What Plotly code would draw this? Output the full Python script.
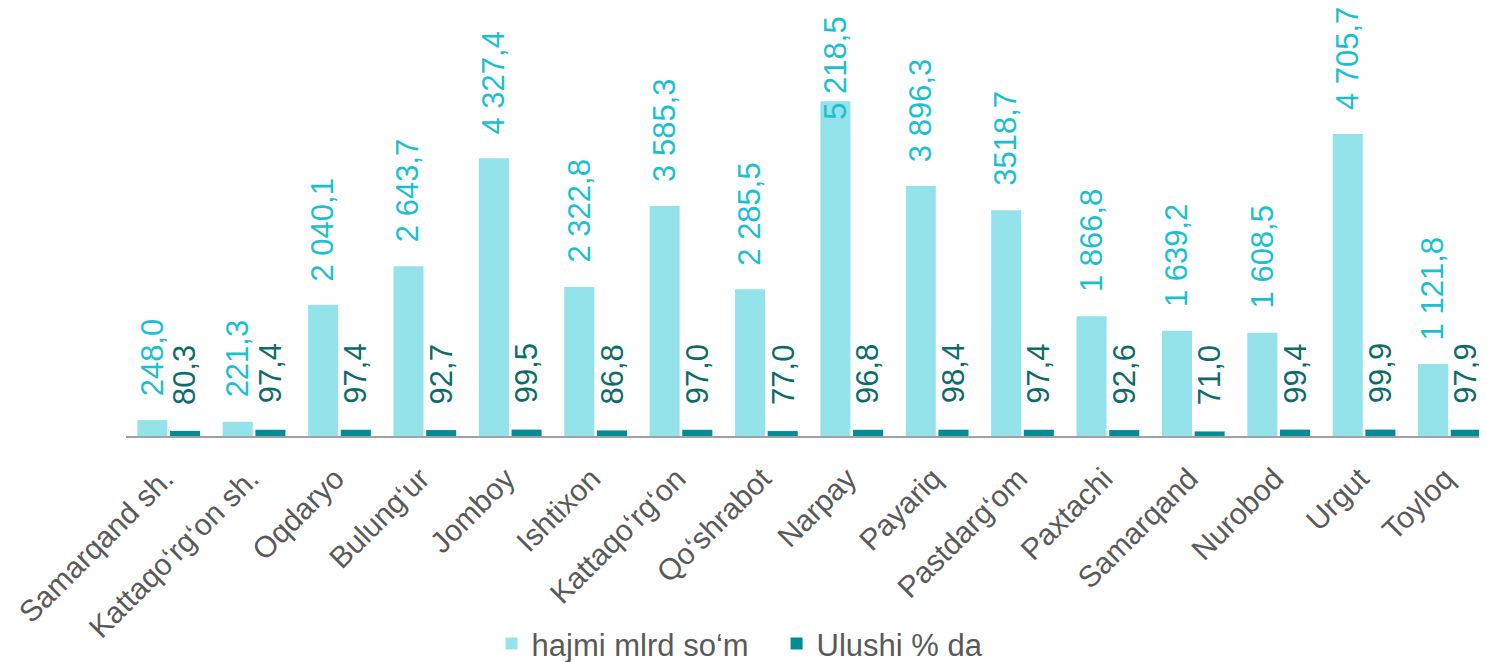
import plotly.graph_objects as go

categories = ["Samarqand sh.", "Kattaqo‘rg‘on sh.", "Oqdaryo", "Bulung‘ur", "Jomboy",
              "Ishtixon", "Kattaqo‘rg‘on", "Qo‘shrabot", "Narpay", "Payariq",
              "Pastdarg‘om", "Paxtachi", "Samarqand", "Nurobod", "Urgut", "Toyloq"]
hajmi = [248.0, 221.3, 2040.1, 2643.7, 4327.4, 2322.8, 3585.3, 2285.5,
         5218.5, 3896.3, 3518.7, 1866.8, 1639.2, 1608.5, 4705.7, 1121.8]
hajmi_labels = ["248,0", "221,3", "2 040,1", "2 643,7", "4 327,4", "2 322,8", "3 585,3", "2 285,5",
                "5 218,5", "3 896,3", "3518,7", "1 866,8", "1 639,2", "1 608,5", "4 705,7", "1 121,8"]
ulushi = [80.3, 97.4, 97.4, 92.7, 99.5, 86.8, 97.0, 77.0,
          96.8, 98.4, 97.4, 92.6, 71.0, 99.4, 99.9, 97.9]
ulushi_labels = ["80,3", "97,4", "97,4", "92,7", "99,5", "86,8", "97,0", "77,0",
                 "96,8", "98,4", "97,4", "92,6", "71,0", "99,4", "99,9", "97,9"]

LIGHT = "#95E3EA"
DARK = "#008C95"
LIGHT_TXT = "#1CBFD0"
DARK_TXT = "#0D6B6B"
GRAY = "#595959"
FONT = "Liberation Sans, Arial, sans-serif"

fig = go.Figure()
fig.add_trace(go.Bar(name="hajmi mlrd so‘m", x=categories, y=hajmi,
                     marker=dict(color=LIGHT, line=dict(width=0))))
fig.add_trace(go.Bar(name="Ulushi % da", x=categories, y=ulushi,
                     marker=dict(color=DARK, line=dict(width=0))))

# labels of bars too tall to fit are kept inside the chart (top-anchored), as Excel does
FIT_LIMIT = 5000
annotations = []
for c, v, t in zip(categories, hajmi, hajmi_labels):
    if v > FIT_LIMIT:
        annotations.append(dict(x=c, y=1.0935, xref="x", yref="paper", text=t,
                                showarrow=False, textangle=-90, xanchor="center", yanchor="top",
                                xshift=-16.5, font=dict(size=31, color=LIGHT_TXT, family=FONT)))
    else:
        annotations.append(dict(x=c, y=v, xref="x", yref="y", text=t,
                                showarrow=False, textangle=-90, xanchor="center", yanchor="bottom",
                                xshift=-16.5, yshift=22, font=dict(size=31, color=LIGHT_TXT, family=FONT)))
for c, v, t in zip(categories, ulushi, ulushi_labels):
    annotations.append(dict(x=c, y=v, xref="x", yref="y", text=t,
                            showarrow=False, textangle=-90, xanchor="center", yanchor="bottom",
                            xshift=16.5, yshift=24, font=dict(size=31, color=DARK_TXT, family=FONT)))

fig.update_layout(
    width=1479, height=654,
    margin=dict(l=118, r=0, t=43, b=226, autoexpand=False),
    paper_bgcolor="white", plot_bgcolor="white",
    barmode="group", bargap=0.235, bargroupgap=0.08,
    font=dict(family=FONT, size=30, color=GRAY),
    annotations=annotations,
    showlegend=True,
    legend=dict(orientation="h", x=0.478, xanchor="center", y=-0.54, yanchor="middle",
                font=dict(size=31, color=GRAY), itemsizing="constant", entrywidth=240),
    xaxis=dict(range=[-0.5, 15.44], tickangle=-45, showline=True, linecolor="#A0A0A0",
               linewidth=2, ticks="", showgrid=False, ticklabelshift=-4, ticklabelstandoff=11,
               automargin=False, tickfont=dict(size=30, color=GRAY, family=FONT)),
    yaxis=dict(range=[0, 6000], visible=False, showgrid=False, zeroline=False, automargin=False),
)

fig.write_html("out.html")
